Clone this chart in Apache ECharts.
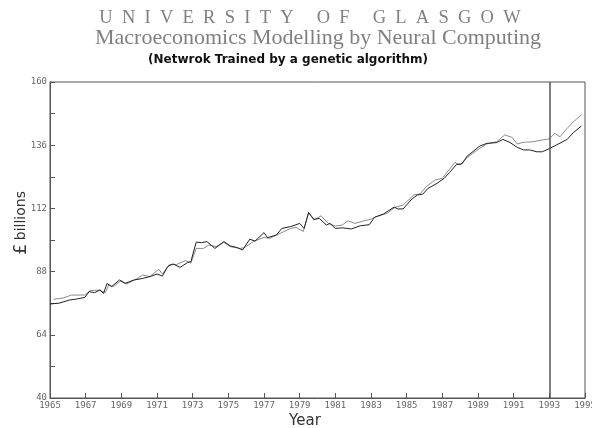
<!DOCTYPE html>
<html>
<head>
<meta charset="utf-8">
<script src="https://cdn.jsdelivr.net/npm/echarts@6/dist/echarts.min.js"></script>
<style>html,body{margin:0;padding:0;background:#fff;}#c{width:592px;height:428px;}</style>
</head>
<body>
<div id="c"></div>
<script>
var actualYears = [1965.0,1965.5,1966.1,1966.5,1966.95,1967.2,1967.5,1967.8,1968.0,1968.2,1968.45,1968.9,1969.2,1969.7,1970.2,1970.7,1971.0,1971.3,1971.6,1971.9,1972.3,1972.7,1972.9,1973.2,1973.5,1973.8,1974.25,1974.75,1975.1,1975.5,1975.8,1976.2,1976.5,1977.0,1977.2,1977.7,1978.0,1978.5,1979.0,1979.25,1979.5,1979.8,1980.1,1980.5,1980.7,1981.0,1981.4,1981.9,1982.4,1982.9,1983.2,1983.7,1984.3,1984.5,1984.8,1985.3,1985.6,1985.9,1986.2,1986.7,1987.1,1987.4,1987.8,1988.1,1988.4,1988.7,1989.1,1989.5,1990.05,1990.4,1990.8,1991.2,1991.55,1991.9,1992.3,1992.6,1993.0,1993.4,1994.0,1994.35,1994.8];
var actualValues = [75.7,76.0,77.2,77.6,78.2,80.4,80.0,81.0,79.7,83.5,82.3,84.8,83.5,84.8,85.4,86.3,87.1,86.3,89.9,90.9,89.6,91.4,91.8,99.2,99.0,99.4,96.8,99.4,97.8,97.1,96.2,100.3,99.6,102.8,100.9,101.9,104.4,105.1,106.3,104.4,110.4,107.8,108.2,105.7,106.3,104.4,104.6,104.2,105.4,105.8,108.6,109.9,112.5,111.8,111.8,115.6,117.1,117.4,119.6,121.5,123.4,125.6,128.7,128.9,131.9,133.5,135.7,136.7,137.0,138.2,137.0,135.2,134.2,134.2,133.5,133.5,134.7,136.1,138.2,140.8,143.3];
var modelYears = [1965.2,1965.75,1966.2,1966.95,1967.25,1967.8,1968.1,1968.3,1968.55,1969.0,1969.3,1969.9,1970.2,1970.6,1971.1,1971.3,1971.7,1972.1,1972.6,1972.9,1973.2,1973.6,1973.9,1974.3,1974.75,1975.1,1975.65,1975.9,1976.4,1977.0,1977.3,1977.9,1978.5,1978.8,1979.2,1979.5,1979.8,1980.2,1980.6,1981.0,1981.4,1981.7,1982.1,1982.6,1982.95,1983.3,1983.9,1984.35,1984.8,1985.4,1985.75,1986.1,1986.6,1987.0,1987.3,1987.7,1988.0,1988.4,1988.7,1989.1,1989.5,1990.05,1990.5,1990.9,1991.2,1991.55,1992.1,1992.6,1993.0,1993.3,1993.6,1994.0,1994.35,1994.8];
var modelValues = [77.5,78.0,79.1,79.1,80.8,81.0,80.0,83.0,82.3,84.6,83.3,85.4,86.7,86.1,88.9,87.1,90.7,90.7,92.2,91.2,96.8,96.8,98.1,97.5,99.1,97.5,96.8,97.1,99.4,101.0,100.6,102.5,104.4,104.8,103.2,110.4,107.6,109.2,106.3,105.3,105.7,107.3,106.3,107.3,107.8,108.9,110.1,112.4,113.3,117.1,117.5,120.3,122.8,123.4,126.0,129.4,128.5,131.4,132.9,134.8,136.5,137.3,139.9,139.0,136.5,137.1,137.3,138.0,138.4,140.5,139.2,142.4,144.9,147.5];
var xTickLabels = [1965,1967,1969,1971,1973,1975,1977,1979,1981,1983,1985,1987,1989,1991,1993,1995];
var yTickLabels = [40,64,88,112,136,160];
var yTicks = [40,52,64,76,88,100,112,124,136,148,160];
var forecastStart = 1993;

function pairs(xs, ys){ return xs.map(function(x,i){ return [x, ys[i]]; }); }

var chart = echarts.init(document.getElementById('c'), null, {renderer:'canvas'});
chart.setOption({
  animation: false,
  backgroundColor: '#fff',
  grid: {left: 50, top: 82, right: 7, bottom: 30, show: true, borderColor: '#555', borderWidth: 1, outerBoundsMode: 'none', containLabel: false},
  graphic: [
    {type:'text', x: 310, y: 18, style:{text:'U  N  I  V  E  R  S  I  T  Y     O  F     G  L  A  S  G  O  W', fill:'#808080', font:'18.5px "Liberation Serif"', align:'center', verticalAlign:'middle'}},
    {type:'text', x: 318, y: 38, style:{text:'Macroeconomics Modelling by Neural Computing', fill:'#808080', font:'22px "Liberation Serif"', align:'center', verticalAlign:'middle'}},
    {type:'text', x: 288, y: 60, style:{text:'(Netwrok Trained by a genetic algorithm)', fill:'#111', font:'bold 12px "DejaVu Sans"', align:'center', verticalAlign:'middle'}},
    {type:'text', x: 305, y: 421, style:{text:'Year', fill:'#333', font:'15px "DejaVu Sans"', align:'center', verticalAlign:'middle'}},
    {type:'text', x: 21, y: 223, rotation: Math.PI/2, style:{text:'{p|£} {b|billions}', align:'center', verticalAlign:'middle',
      rich:{p:{fill:'#333', font:'18px "DejaVu Sans"'}, b:{fill:'#333', font:'14px "DejaVu Sans"'}}}}
  ],
  xAxis: {
    type: 'value', min: 1965, max: 1995,
    axisLine: {show: true, lineStyle: {color: '#555'}},
    axisTick: {show: true, inside: true, length: 5, lineStyle:{color:'#555'}, customValues: xTickLabels},
    axisLabel: {color: '#666', fontSize: 9, fontFamily: 'DejaVu Sans Mono', margin: 3, customValues: xTickLabels, formatter: function(v){ return String(v); }},
    splitLine: {show: false}
  },
  yAxis: {
    type: 'value', min: 40, max: 160,
    axisLine: {show: true, lineStyle: {color: '#555'}},
    axisTick: {show: true, inside: true, length: 5, lineStyle:{color:'#555'}, customValues: yTicks},
    axisLabel: {color: '#666', fontSize: 9, fontFamily: 'DejaVu Sans Mono', margin: 3, customValues: yTickLabels},
    splitLine: {show: false}
  },
  series: [
    {type:'line', name:'Model', data: pairs(modelYears, modelValues), showSymbol:false, lineStyle:{color:'#8c8c8c', width:1}, z: 2},
    {type:'line', name:'Actual', data: pairs(actualYears, actualValues), showSymbol:false, lineStyle:{color:'#222', width:1}, z: 3,
     markLine: {symbol:'none', silent:true, label:{show:false}, lineStyle:{color:'#555', width:1.5, type:'solid'}, data:[{xAxis: forecastStart}]}}
  ]
});
</script>
</body>
</html>
